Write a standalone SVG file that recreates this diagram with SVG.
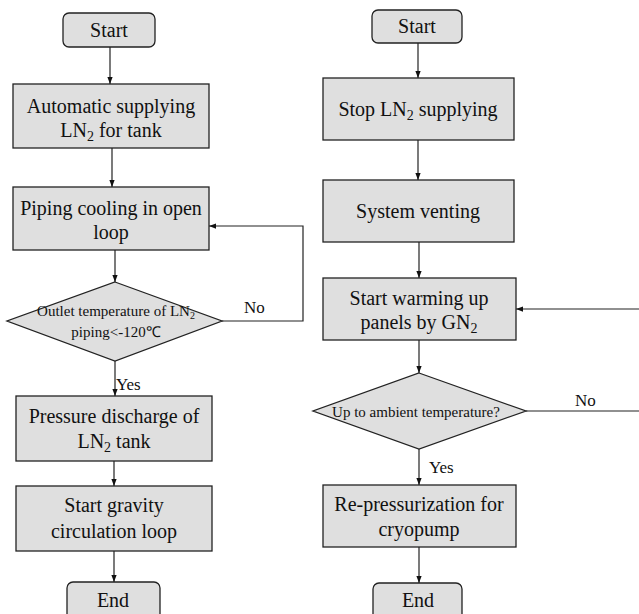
<svg xmlns="http://www.w3.org/2000/svg" width="639" height="614" viewBox="0 0 639 614">
<style>
.box{fill:#dfdfdf;stroke:#222;stroke-width:1.3}
.t{font-family:"Liberation Serif","Times New Roman",serif;font-size:20px;fill:#111;text-anchor:middle}
.s{font-family:"Liberation Serif","Times New Roman",serif;font-size:15px;fill:#111;text-anchor:middle}
.l{font-family:"Liberation Serif","Times New Roman",serif;font-size:17px;fill:#111}
.c{fill:none;stroke:#222;stroke-width:1.2}
</style>
<defs>
<marker id="a" viewBox="0 0 8 8" refX="8" refY="4" markerWidth="7" markerHeight="7" markerUnits="userSpaceOnUse" orient="auto">
<path d="M0,1 L8,4 L0,7 Z" fill="#111"/>
</marker>
</defs>
<rect width="639" height="614" fill="#fff"/>
<g id="connectors">
<path class="c" d="M110,47 V84" marker-end="url(#a)"/>
<path class="c" d="M112,148 V187" marker-end="url(#a)"/>
<path class="c" d="M115,250 V282" marker-end="url(#a)"/>
<path class="c" d="M222,321 H303 V226 H209" marker-end="url(#a)"/>
<path class="c" d="M115,361 V396" marker-end="url(#a)"/>
<path class="c" d="M114,461 V486" marker-end="url(#a)"/>
<path class="c" d="M114,551 V582" marker-end="url(#a)"/>
<path class="c" d="M418,43 V78" marker-end="url(#a)"/>
<path class="c" d="M418,140 V180" marker-end="url(#a)"/>
<path class="c" d="M419,242 V278" marker-end="url(#a)"/>
<path class="c" d="M639,309 H516" marker-end="url(#a)"/>
<path class="c" d="M419,340 V373" marker-end="url(#a)"/>
<path class="c" d="M526,411 H639"/>
<path class="c" d="M419,449 V485" marker-end="url(#a)"/>
<path class="c" d="M419,547 V583" marker-end="url(#a)"/>
<text class="l" x="244" y="313">No</text>
<text class="l" x="116" y="390">Yes</text>
<text class="l" x="575" y="406">No</text>
<text class="l" x="429" y="473">Yes</text>
</g>
<g id="start1">
<rect class="box" x="63" y="13" width="92" height="34" rx="6"/>
<text class="t" x="109" y="37">Start</text>
</g>
<g id="supply">
<rect class="box" x="13" y="84" width="196" height="64"/>
<text class="t" x="111" y="113">Automatic supplying</text>
<text class="t" x="111" y="137">LN<tspan font-size="14" dy="4">2</tspan><tspan dy="-4"> for tank</tspan></text>
</g>
<g id="piping">
<rect class="box" x="13" y="187" width="196" height="63"/>
<text class="t" x="111" y="215">Piping cooling in open</text>
<text class="t" x="111" y="239">loop</text>
</g>
<g id="outlet">
<polygon class="box" points="115,282 222,321 115,361 7,321"/>
<text class="s" x="116" y="316">Outlet temperature of LN<tspan font-size="10" dy="3">2</tspan></text>
<text class="s" x="116" y="337">piping&lt;-120℃</text>
</g>
<g id="discharge">
<rect class="box" x="16" y="396" width="196" height="65"/>
<text class="t" x="114" y="423">Pressure discharge of</text>
<text class="t" x="114" y="448">LN<tspan font-size="14" dy="4">2</tspan><tspan dy="-4"> tank</tspan></text>
</g>
<g id="gravity">
<rect class="box" x="16" y="486" width="196" height="65"/>
<text class="t" x="114" y="512">Start gravity</text>
<text class="t" x="114" y="538">circulation loop</text>
</g>
<g id="end1">
<rect class="box" x="67" y="582" width="93" height="40" rx="6"/>
<text class="t" x="113" y="607">End</text>
</g>
<g id="start2">
<rect class="box" x="372" y="10" width="90" height="33" rx="6"/>
<text class="t" x="417" y="33">Start</text>
</g>
<g id="stop">
<rect class="box" x="323" y="78" width="191" height="62"/>
<text class="t" x="418" y="116">Stop LN<tspan font-size="14" dy="4">2</tspan><tspan dy="-4"> supplying</tspan></text>
</g>
<g id="venting">
<rect class="box" x="323" y="180" width="191" height="62"/>
<text class="t" x="418" y="218">System venting</text>
</g>
<g id="warming">
<rect class="box" x="323" y="278" width="193" height="62"/>
<text class="t" x="419" y="305">Start warming up</text>
<text class="t" x="419" y="329">panels by GN<tspan font-size="14" dy="4">2</tspan></text>
</g>
<g id="ambient">
<polygon class="box" points="419,373 526,411 419,449 313,411"/>
<text class="s" x="416" y="417" font-size="17">Up to ambient temperature?</text>
</g>
<g id="repress">
<rect class="box" x="323" y="485" width="193" height="62"/>
<text class="t" x="419" y="511">Re-pressurization for</text>
<text class="t" x="419" y="536">cryopump</text>
</g>
<g id="end2">
<rect class="box" x="373" y="583" width="89" height="40" rx="6"/>
<text class="t" x="418" y="607">End</text>
</g>
</svg>
